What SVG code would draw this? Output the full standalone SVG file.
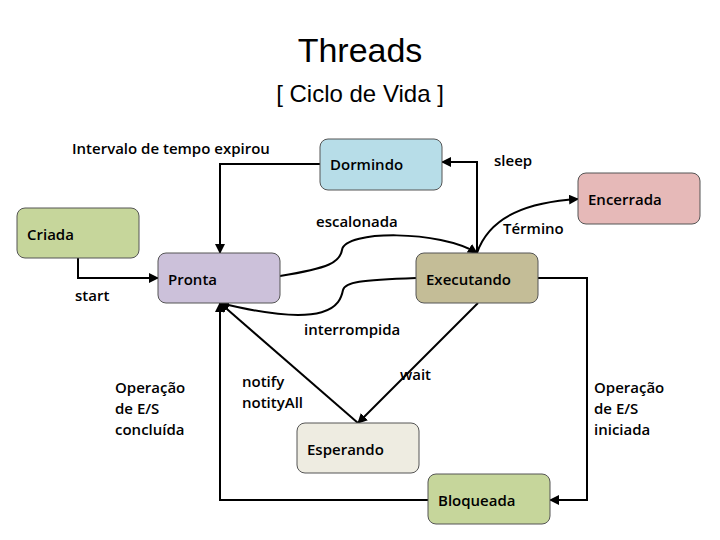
<svg xmlns="http://www.w3.org/2000/svg" width="720" height="540" viewBox="0 0 720 540">
<defs>
<marker id="a" viewBox="0 0 10 10" refX="9" refY="5" markerWidth="5" markerHeight="5" orient="auto"><path d="M0,0 L10,5 L0,10 z" fill="#000"/></marker>
<style>
.n{stroke:#555;stroke-width:1}
.t{font-family:"Open Sans","Liberation Sans",sans-serif;font-size:15px;font-weight:600;fill:#000}
.l{font-family:"Open Sans","Liberation Sans",sans-serif;font-size:15px;font-weight:600;fill:#000}
.c{fill:none;stroke:#000;stroke-width:2;marker-end:url(#a)}
.h{font-family:"Liberation Sans",Arial,sans-serif;fill:#000;text-anchor:middle}
</style>
</defs>
<rect width="720" height="540" fill="#fff"/>
<text class="h" x="360" y="62" font-size="34">Threads</text>
<text class="h" x="360" y="102" font-size="24">[ Ciclo de Vida ]</text>
<g id="connectors">
<path class="c" d="M78,258 V278 H158"/>
<path class="c" d="M477,253 V162 H442"/>
<path class="c" d="M320,164 H220 V253"/>
<path class="c" d="M280,276 C330,268 340,262 342,250 C345,230 440,230 477,253"/>
<path class="c" d="M477,253 C490,215 530,202 578,199"/>
<path class="c" d="M416,278 C360,280 345,282 343,290 C340,305 330,330 220,303"/>
<path class="c" d="M478,303 L358,423"/>
<path class="c" d="M358,423 L220,303"/>
<path class="c" d="M538,278 H587 V500 H550"/>
<path class="c" d="M428,500 H220 V303"/>
</g>
<g id="criada"><rect class="n" x="17" y="208" width="122" height="50" rx="8" fill="#c6d69b"/><text class="t" x="27" y="240">Criada</text></g>
<g id="pronta"><rect class="n" x="158" y="253" width="122" height="50" rx="8" fill="#ccc1da"/><text class="t" x="168" y="285">Pronta</text></g>
<g id="dormindo"><rect class="n" x="320" y="139" width="122" height="51" rx="8" fill="#b7dde8"/><text class="t" x="330" y="170">Dormindo</text></g>
<g id="executando"><rect class="n" x="416" y="253" width="122" height="50" rx="8" fill="#c4bd97"/><text class="t" x="426" y="285">Executando</text></g>
<g id="encerrada"><rect class="n" x="578" y="173" width="122" height="51" rx="8" fill="#e6b9b8" stroke="none"/><text class="t" x="588" y="205">Encerrada</text></g>
<g id="esperando"><rect class="n" x="297" y="423" width="122" height="50" rx="8" fill="#eeece1"/><text class="t" x="307" y="455">Esperando</text></g>
<g id="bloqueada"><rect class="n" x="428" y="474" width="122" height="50" rx="8" fill="#c6d69b"/><text class="t" x="438" y="506">Bloqueada</text></g>
<g id="labels">
<text class="l" x="72" y="154">Intervalo de tempo expirou</text>
<text class="l" x="494" y="166">sleep</text>
<text class="l" x="316" y="227">escalonada</text>
<text class="l" x="503" y="234">Término</text>
<text class="l" x="75" y="301">start</text>
<text class="l" x="304" y="335">interrompida</text>
<text class="l" x="400" y="380">wait</text>
<text class="l" x="242" y="387">notify</text>
<text class="l" x="242" y="408">notityAll</text>
<text class="l" x="115" y="393">Operação</text>
<text class="l" x="115" y="414">de E/S</text>
<text class="l" x="115" y="435">concluída</text>
<text class="l" x="594" y="393">Operação</text>
<text class="l" x="594" y="414">de E/S</text>
<text class="l" x="594" y="435">iniciada</text>
</g>
</svg>
